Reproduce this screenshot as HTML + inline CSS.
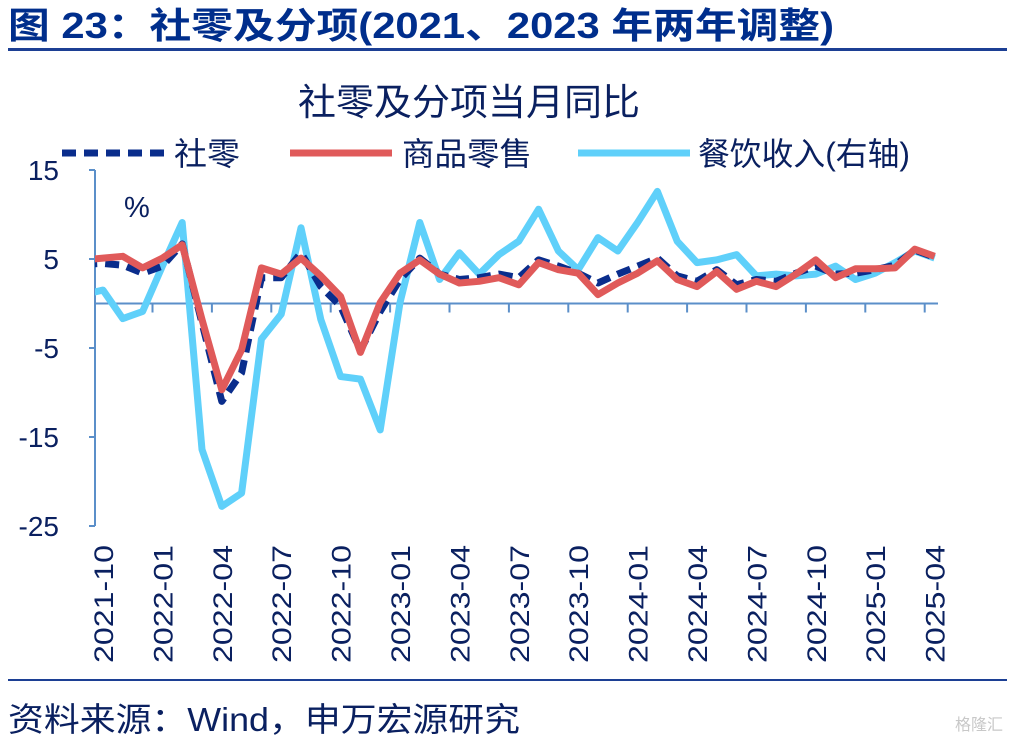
<!DOCTYPE html>
<html><head><meta charset="utf-8"><style>
body{margin:0;background:#fff;width:1017px;height:742px;overflow:hidden;font-family:"Liberation Sans","Noto Sans CJK SC",sans-serif}
svg text{font-family:"Liberation Sans","Noto Sans CJK SC",sans-serif}
</style></head><body>
<svg width="1017" height="742" id="chart">
<text x="8" y="38" font-size="36" font-weight="bold" fill="#002e8c" textLength="826" lengthAdjust="spacingAndGlyphs">图 23：社零及分项(2021、2023 年两年调整)</text>
<rect x="8" y="48" width="999" height="3" fill="#1c3f94"/>
<text x="298" y="115" font-size="37" fill="#0a2060" textLength="342" lengthAdjust="spacingAndGlyphs">社零及分项当月同比</text>
<g>
<line x1="62" y1="153" x2="165" y2="153" stroke="#0a2d8c" stroke-width="7" stroke-dasharray="14,8"/>
<text x="174" y="165" font-size="32" fill="#0a2060" textLength="66" lengthAdjust="spacingAndGlyphs">社零</text>
<line x1="290" y1="153" x2="392" y2="153" stroke="#e05a5a" stroke-width="7"/>
<text x="402" y="165" font-size="32" fill="#0a2060" textLength="130" lengthAdjust="spacingAndGlyphs">商品零售</text>
<line x1="578" y1="153" x2="690" y2="153" stroke="#5fd0fa" stroke-width="7"/>
<text x="698" y="165" font-size="32" fill="#0a2060" textLength="212" lengthAdjust="spacingAndGlyphs">餐饮收入(右轴)</text>
</g>
<text x="124" y="217" font-size="29" fill="#0a2060">%</text>
<g id="axes"></g>
<defs><clipPath id="plotclip"><rect x="95" y="160" width="850" height="380"/></clipPath></defs>
<g id="series" clip-path="url(#plotclip)"></g>
<g id="xlabels"></g>
<rect x="8" y="679" width="999" height="2" fill="#1c3f94"/>
<text x="8" y="731" font-size="33" fill="#0a2060" textLength="512" lengthAdjust="spacingAndGlyphs">资料来源：Wind，申万宏源研究</text>
<text x="955" y="730" font-size="16" fill="#c8c8c8">格隆汇</text>
</svg>
<script>
const months=["2021-09","2021-10","2021-11","2021-12","2022-01","2022-02","2022-03","2022-04","2022-05","2022-06","2022-07","2022-08","2022-09","2022-10","2022-11","2022-12","2023-01","2023-02","2023-03","2023-04","2023-05","2023-06","2023-07","2023-08","2023-09","2023-10","2023-11","2023-12","2024-01","2024-02","2024-03","2024-04","2024-05","2024-06","2024-07","2024-08","2024-09","2024-10","2024-11","2024-12","2025-01","2025-02","2025-03","2025-04"];
const totalSales=[4.4,4.5,4.3,3.4,4.2,6.7,-2.2,-11.0,-7.8,2.9,2.9,5.7,1.9,-0.3,-5.3,-0.9,2.7,5.1,3.3,2.7,2.9,3.3,2.9,4.9,4.2,3.4,2.3,3.3,4.2,5.1,3.1,2.5,3.8,2.1,2.7,2.5,3.4,4.2,3.3,3.4,3.8,4.3,6.0,5.2];
const goodsSales=[4.9,5.1,5.3,4.0,5.1,6.6,-1.8,-9.7,-5.2,4.0,3.3,5.1,3.1,0.8,-5.5,0.1,3.4,4.9,3.3,2.3,2.5,2.9,2.1,4.6,3.8,3.4,1.0,2.3,3.4,4.8,2.7,1.9,3.6,1.6,2.5,1.9,3.3,4.9,2.9,3.9,3.9,4.0,6.1,5.3];
const catering=[1.0,1.5,-1.7,-0.9,4.2,9.1,-16.4,-22.8,-21.3,-4.0,-1.2,8.5,-1.8,-8.2,-8.5,-14.2,0.1,9.1,2.7,5.7,3.3,5.5,7.0,10.6,5.9,3.8,7.4,5.9,9.1,12.6,7.0,4.6,4.9,5.5,3.1,3.3,3.1,3.3,4.2,2.7,3.4,4.6,5.9,5.1];
const yTicks=[15,5,-5,-15,-25];
const xLabelIdx=[1,4,7,10,13,16,19,22,25,28,31,34,37,40,43];

const NS="http://www.w3.org/2000/svg";
const X=i=>103+19.8*(i-1);
const Y=v=>303.5-8.9*v;
function mk(tag,attrs,parent){const e=document.createElementNS(NS,tag);for(const k in attrs)e.setAttribute(k,attrs[k]);parent.appendChild(e);return e;}
const axes=document.getElementById('axes');
const ax=mk('line',{x1:95,y1:Y(15),x2:95,y2:Y(-25),stroke:'#5b8fc9','stroke-width':2},axes);


yTicks.forEach(t=>{
 const tk=mk('line',{x1:89,y1:Y(t),x2:95,y2:Y(t),stroke:'#5b8fc9','stroke-width':2},axes);
 
 
 const tx=mk('text',{x:59,y:Y(t)+10,'font-size':28,fill:'#0a2060','text-anchor':'end'},axes);
 tx.textContent=t;
 
 
});
const zl=mk('line',{x1:95,y1:Y(0),x2:938,y2:Y(0),stroke:'#5b8fc9','stroke-width':2},axes);


for(let i=3.5;i<months.length;i+=3){
 const tk=mk('line',{x1:X(i),y1:Y(0),x2:X(i),y2:Y(0)+9,stroke:'#5b8fc9','stroke-width':2},axes);
 
 
}
const sg=document.getElementById('series');
function line(arr,attrs,name){
 const d=arr.map((v,i)=>(i?'L':'M')+X(i).toFixed(1)+' '+Y(v).toFixed(1)).join(' ');
 const p=mk('path',Object.assign({d:d,fill:'none','stroke-linejoin':'round'},attrs),sg);
 
 
}
line(catering,{stroke:'#5fd0fa','stroke-width':7},'catering-line');
line(totalSales,{stroke:'#0a2d8c','stroke-width':7,'stroke-dasharray':'14,8'},'total-retail-line');
line(goodsSales,{stroke:'#e05a5a','stroke-width':7},'goods-retail-line');
const xl=document.getElementById('xlabels');
xLabelIdx.forEach(i=>{
 const t=mk('text',{x:0,y:0,'font-size':27,fill:'#0a2060','text-anchor':'end',textLength:118,lengthAdjust:'spacingAndGlyphs',transform:`translate(${X(i)+10},545) rotate(-90)`},xl);
 t.textContent=months[i];
 
 
});
</script>
</body></html>
